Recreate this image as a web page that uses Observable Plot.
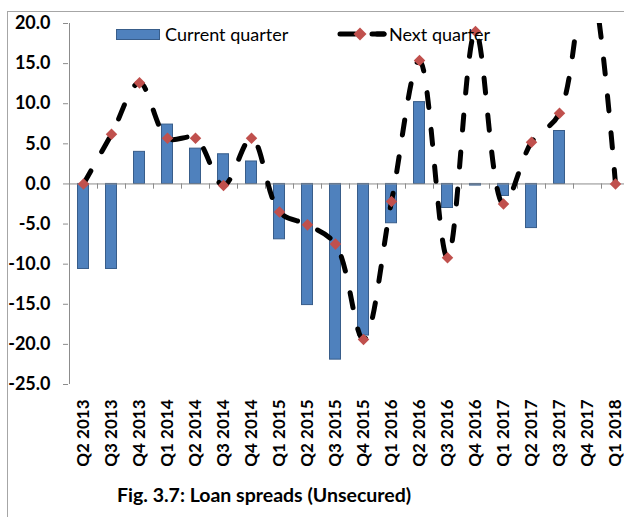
<!DOCTYPE html>
<html>
<head>
<meta charset="utf-8">
<script src="https://cdn.jsdelivr.net/npm/d3@7"></script>
<script src="https://cdn.jsdelivr.net/npm/@observablehq/plot@0.6"></script>
<style>
  html, body { margin: 0; padding: 0; background: #fff; }
  #wrap { position: relative; width: 624px; height: 517px; overflow: hidden; font-family: Lato, "Noto Sans", sans-serif; }
  #border { position: absolute; left: 7px; top: 11px; width: 700px; height: 600px; border: 1px solid #a6a6a6; box-sizing: border-box; }
  #chart { position: absolute; left: 0; top: 0; }
  .leg { position: absolute; font-size: 18px; color: #000; line-height: 1; white-space: nowrap; }
  #caption { position: absolute; left: 117px; top: 483px; font-size: 19.5px; font-weight: bold; color: #000; white-space: nowrap; }
</style>
</head>
<body>
<div id="wrap">
  <div id="border"></div>
  <div id="chart"></div>
  <div class="leg" style="left:116px; top:29px; width:44px; height:11px; background:#4F81BD; border:1px solid #385D8A; box-sizing:border-box;"></div>
  <div class="leg" style="left:165px; top:25px;">Current quarter</div>
  <svg class="leg" style="left:334px; top:26px;" width="54" height="16">
    <line x1="4" y1="8" x2="50" y2="8" stroke="#000" stroke-width="5" stroke-linecap="round" stroke-dasharray="15,22" stroke-dashoffset="-2"></line>
    <line x1="38" y1="8" x2="50" y2="8" stroke="#000" stroke-width="5" stroke-linecap="round"></line>
    <path d="M26,1.5 L32.5,8 L26,14.5 L19.5,8 Z" fill="#C0504D"></path>
  </svg>
  <div class="leg" style="left:389px; top:25px;">Next quarter</div>
  <div id="caption">Fig. 3.7: Loan spreads (Unsecured)</div>
</div>
<script>
const categories = ["Q2 2013","Q3 2013","Q4 2013","Q1 2014","Q2 2014","Q3 2014","Q4 2014","Q1 2015","Q2 2015","Q3 2015","Q4 2015","Q1 2016","Q2 2016","Q3 2016","Q4 2016","Q1 2017","Q2 2017","Q3 2017","Q4 2017","Q1 2018"];
const currentQuarter = [-10.6,-10.6,4.0,7.4,4.4,3.7,2.8,-6.9,-15.1,-21.9,-18.9,-4.9,10.2,-3.0,-0.2,-1.5,-5.5,6.6,0,null];
const nextQuarter = [0.0,6.2,12.6,5.7,5.7,-0.2,5.7,-3.5,-5.1,-7.5,-19.4,-2.2,15.4,-9.2,19.0,-2.5,5.2,8.8,27.0,0.0];
const yTicks = [-25,-20,-15,-10,-5,0,5,10,15,20];

const rows = categories.map((q, i) => ({q, cur: currentQuarter[i], next: nextQuarter[i]}));
const barRows = rows.filter(d => d.cur != null);

const plot = Plot.plot({
  width: 624,
  height: 517,
  marginLeft: 68,
  marginRight: -6,
  marginTop: 23,
  marginBottom: 133,
  style: {fontFamily: "Lato, 'Noto Sans', sans-serif", color: "#000", background: "transparent"},
  x: {domain: categories, padding: 0, axis: null, label: null},
  y: {domain: [-25, 20], axis: null, label: null},
  marks: [
    Plot.axisY({ticks: yTicks, tickFormat: d => d.toFixed(1), tickSize: 5, tickPadding: 13, fontSize: 18, fontWeight: "bold", stroke: "#8c8c8c", fill: "#000", label: null}),
    Plot.ruleX([categories[0]], {x: d => d, y1: -25, y2: 20, dx: -14, stroke: "#8c8c8c"}),
    Plot.barY(barRows, {x: "q", y: "cur", fill: "#4F81BD", stroke: "#385D8A", strokeWidth: 1, insetLeft: 8.5, insetRight: 8.5}),
    Plot.ruleY([0], {stroke: "#8c8c8c"}),
    Plot.ruleX(categories.slice(1), {x: d => d, y1: 0, y2: -0.65, dx: -14, stroke: "#8c8c8c"}),
    Plot.line(rows, {x: "q", y: "next", curve: "catmull-rom", stroke: "#000", strokeWidth: 5, strokeDasharray: "15,22", strokeLinecap: "round", clip: true}),
    Plot.dot(rows, {x: "q", y: "next", symbol: "diamond2", r: 5.2, fill: "#C0504D", stroke: "none", clip: true}),
    Plot.axisX({tickSize: 0, tickPadding: 15, tickRotate: -90, fontSize: 17, fontWeight: "bold", fill: "#000", label: null})
  ]
});
document.getElementById("chart").appendChild(plot);
</script>
</body>
</html>
